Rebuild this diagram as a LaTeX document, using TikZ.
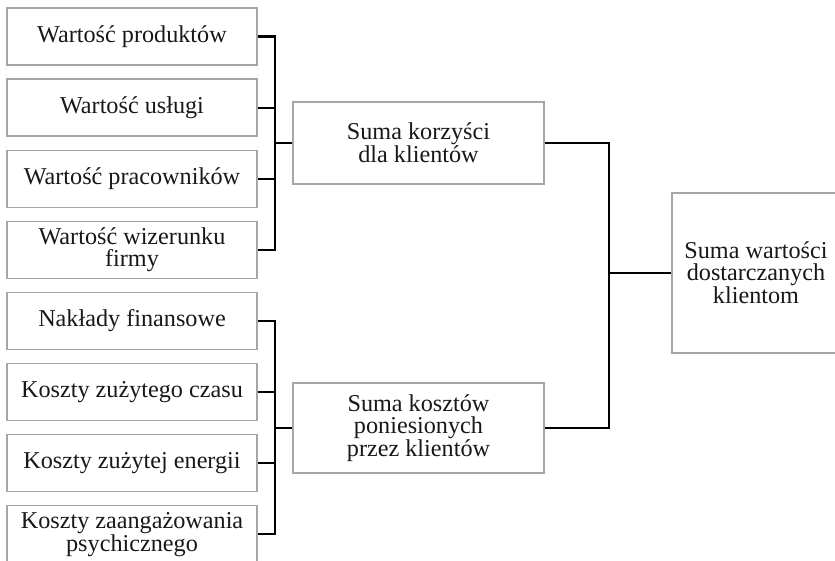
\documentclass[tikz,border=0pt]{standalone}
\usepackage{fontspec}
\setmainfont{Liberation Serif}
\definecolor{boxgray}{HTML}{A6A6A6}
\definecolor{txt}{HTML}{1A1718}
\begin{document}
\begin{tikzpicture}[x=1pt,y=-1pt,
  box/.style={draw=boxgray, line width=1.2pt, fill=white, rectangle, inner sep=0pt,
    align=center, text=txt, font=\fontsize{24.2}{22}\selectfont},
  leftbox/.style={box, minimum width=250pt, minimum height=57pt},
  conn/.style={draw=black, line width=2.1pt}]
\useasboundingbox (0,0) rectangle (835,561);
\clip (0,0) rectangle (835,561);
\fill[white] (0,0) rectangle (835,561);
% left column
\node[leftbox] (b1) at (132,36.5) {Wartość produktów};
\node[leftbox] (b2) at (132,107.6) {Wartość usługi};
\node[leftbox] (b3) at (132,178.7) {Wartość pracowników};
\node[leftbox] (b4) at (132,249.8) {Wartość wizerunku\\firmy};
\node[leftbox] (b5) at (132,320.9) {Nakłady finansowe};
\node[leftbox] (b6) at (132,392) {Koszty zużytego czasu};
\node[leftbox] (b7) at (132,463.1) {Koszty zużytej energii};
\node[leftbox] (b8) at (132,534.2) {Koszty zaangażowania\\psychicznego};
% middle column
\node[box, minimum width=251pt, minimum height=82pt] (m1) at (418.5,143) {Suma korzyści\\dla klientów};
\node[box, minimum width=251pt, minimum height=90pt] (m2) at (418.5,428) {Suma kosztów\\poniesionych\\przez klientów};
% right
\node[box, minimum width=168pt, minimum height=160pt] (r) at (756,273) {Suma wartości\\dostarczanych\\klientom};
% junctions
\coordinate (j1) at (m1.west -| 275,0);
\coordinate (j2) at (m2.west -| 275,0);
\coordinate (j3) at (r.west -| 609,0);
% connectors group 1
\draw[conn] (b1.east) -- (b1.east -| j1) -- (b4.east -| j1) -- (b4.east);
\draw[conn] (b2.east) -- (b2.east -| j1);
\draw[conn] (b3.east) -- (b3.east -| j1);
\draw[conn] (j1) -- (m1.west);
% connectors group 2
\draw[conn] (b5.east) -- (b5.east -| j2) -- (b8.east -| j2) -- (b8.east);
\draw[conn] (b6.east) -- (b6.east -| j2);
\draw[conn] (b7.east) -- (b7.east -| j2);
\draw[conn] (j2) -- (m2.west);
% right connectors
\draw[conn] (m1.east) -- (m1.east -| j3) -- (m2.east -| j3) -- (m2.east);
\draw[conn] (j3) -- (r.west);
\end{tikzpicture}
\end{document}
